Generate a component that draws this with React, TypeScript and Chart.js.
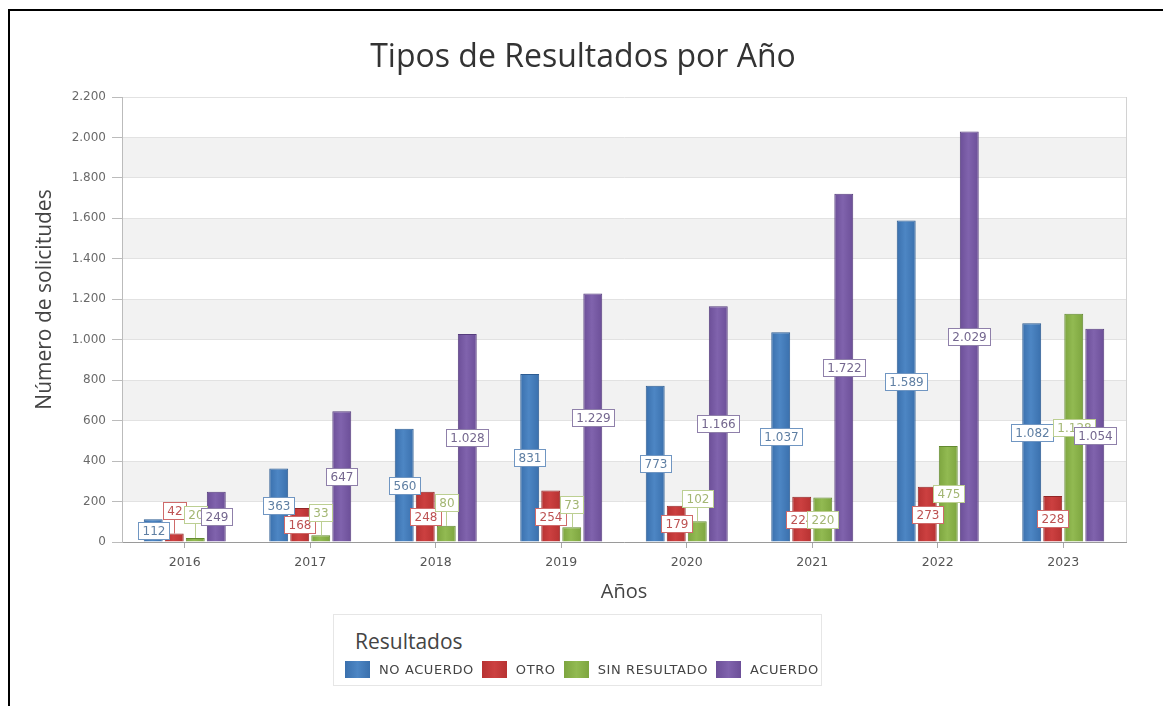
import React, { useEffect, useRef } from 'react';
import { Chart, registerables } from 'chart.js';
Chart.register(...registerables);

// ---------- data ----------
const categories = ['2016', '2017', '2018', '2019', '2020', '2021', '2022', '2023'];
const seriesNames = ['NO ACUERDO', 'OTRO', 'SIN RESULTADO', 'ACUERDO'];
const noAcuerdo = [112, 363, 560, 831, 773, 1037, 1589, 1082];
const otro = [42, 168, 248, 254, 179, 224, 273, 228];
const sinResultado = [20, 33, 80, 73, 102, 220, 475, 1128];
const acuerdo = [249, 647, 1028, 1229, 1166, 1722, 2029, 1054];
const seriesData = [noAcuerdo, otro, sinResultado, acuerdo];
const yMin = 0;
const yMax = 2200;
const yStep = 200;

const chartTitle = 'Tipos de Resultados por Año';
const yTitle = 'Número de solicitudes';
const xTitle = 'Años';
const legendTitle = 'Resultados';

// ---------- styles ----------
const barColors = ['#3a70ad', '#b73232', '#7da53f', '#6c4f98'];
const barLights = ['#4d86c4', '#cc4040', '#92ba52', '#8063ad'];
const barBorders = ['#2d5c92', '#922626', '#638a30', '#563d7d'];
const labelBorders = ['#7096c2', '#cf6a6a', '#bccf92', '#8f80aa'];
const labelTexts = ['#5f7fa3', '#bd5252', '#a3b673', '#74678f'];

const W = 1161;
const H = 696;

function fmt(v: number): string {
  return String(v).replace(/\B(?=(\d{3})+(?!\d))/g, '.');
}

export default function App() {
  const ref = useRef<HTMLCanvasElement>(null);

  useEffect(() => {
    const canvas = ref.current;
    if (!canvas) return;

    const decor = {
      id: 'decor',
      beforeDraw(chart: any) {
        const { ctx, chartArea: a, scales } = chart;
        const y = scales.y;
        ctx.save();
        ctx.fillStyle = '#ffffff';
        ctx.fillRect(0, 0, chart.width, chart.height);
        for (let v = yMin; v < yMax; v += yStep) {
          const idx = Math.round((v - yMin) / yStep);
          if (idx % 2 === 1) {
            const top = y.getPixelForValue(v + yStep);
            const bot = y.getPixelForValue(v);
            ctx.fillStyle = '#f2f2f2';
            ctx.fillRect(a.left, top, a.right - a.left, bot - top);
          }
        }
        ctx.restore();
      },
      beforeDatasetsDraw(chart: any) {
        const { ctx, chartArea: a } = chart;
        ctx.save();
        ctx.strokeStyle = '#d2d2d2';
        ctx.lineWidth = 1;
        ctx.beginPath();
        ctx.moveTo(Math.round(a.right) + 0.5, a.top);
        ctx.lineTo(Math.round(a.right) + 0.5, a.bottom);
        ctx.stroke();
        ctx.restore();
      },
      afterDraw(chart: any) {
        const { ctx, chartArea: a } = chart;
        ctx.save();
        ctx.fillStyle = '#333333';
        ctx.textAlign = 'center';
        ctx.textBaseline = 'alphabetic';
        ctx.font = '32px "Open Sans"';
        ctx.fillText(chartTitle, 573, 56);

        ctx.fillStyle = '#444444';
        ctx.textBaseline = 'middle';
        ctx.font = '20px "Open Sans"';
        ctx.fillText(xTitle, (a.left + a.right) / 2, a.bottom + 50);

        ctx.translate(35, (a.top + a.bottom) / 2 - 20);
        ctx.rotate(-Math.PI / 2);
        ctx.font = '21px "Open Sans"';
        ctx.fillText(yTitle, 0, 0);
        ctx.restore();
      },
    };

    const labelsPlugin = {
      id: 'barLabels',
      afterDatasetsDraw(chart: any) {
        const { ctx } = chart;
        ctx.save();
        ctx.font = '12px "DejaVu Sans"';
        ctx.textAlign = 'center';
        ctx.textBaseline = 'middle';
        chart.data.datasets.forEach((ds: any, i: number) => {
          const meta = chart.getDatasetMeta(i);
          meta.data.forEach((bar: any, j: number) => {
            const v = ds.data[j] as number;
            const { x, y, base } = bar.getProps(['x', 'y', 'base'], true);
            const text = fmt(v);
            const tw = ctx.measureText(text).width;
            const bw = Math.round(tw + 8);
            const bh = 17;
            let cy = (y + base) / 2;
            const moved = base - y < bh + 4;
            if (moved) cy = y - 23;
            const bx = Math.round(x - bw / 2) + 0.5;
            const by = Math.round(cy - bh / 2) + 0.5;
            ctx.lineWidth = 1;
            ctx.strokeStyle = labelBorders[i];
            if (moved) {
              ctx.beginPath();
              ctx.moveTo(Math.round(x) + 0.5, y);
              ctx.lineTo(Math.round(x) + 0.5, by + bh);
              ctx.stroke();
            }
            ctx.fillStyle = '#ffffff';
            ctx.fillRect(bx, by, bw, bh);
            ctx.strokeRect(bx, by, bw, bh);
            ctx.fillStyle = labelTexts[i];
            ctx.fillText(text, bx + bw / 2, by + bh / 2 + 0.5);
          });
        });
        ctx.restore();
      },
    };

    const makeFill = (i: number) => (c: any) => {
      const el = c.element;
      if (!el || el.x == null || el.width == null || !c.chart) return barColors[i];
      const g = c.chart.ctx.createLinearGradient(el.x - el.width / 2, 0, el.x + el.width / 2, 0);
      g.addColorStop(0, barColors[i]);
      g.addColorStop(0.45, barLights[i]);
      g.addColorStop(1, barColors[i]);
      return g;
    };

    const chart = new Chart(canvas, {
      type: 'bar',
      data: {
        labels: categories,
        datasets: seriesNames.map((name, i) => ({
          label: name,
          data: seriesData[i],
          backgroundColor: makeFill(i),
          borderColor: barBorders[i],
          borderWidth: 1,
          barPercentage: 0.9,
          categoryPercentage: 0.67,
        })),
      },
      options: {
        responsive: false,
        maintainAspectRatio: false,
        animation: false,
        devicePixelRatio: 1,
        layout: { padding: { left: 0, right: 45, top: 86, bottom: 105 } },
        plugins: {
          legend: { display: false },
          title: { display: false },
          tooltip: { enabled: false },
        },
        scales: {
          x: {
            afterFit(s: any) {
              s.height = 60;
            },
            grid: {
              display: true,
              drawOnChartArea: false,
              offset: false,
              tickLength: 6,
              color: '#aaaaaa',
            },
            border: { color: '#9a9a9a' },
            ticks: {
              font: { family: 'DejaVu Sans', size: 12.5 },
              color: '#555555',
              padding: 7,
            },
          },
          y: {
            min: yMin,
            max: yMax,
            afterFit(s: any) {
              s.width = 112;
            },
            ticks: {
              stepSize: yStep,
              callback: (v: any) => fmt(Number(v)),
              font: { family: 'DejaVu Sans', size: 12 },
              color: '#6a6a6a',
              padding: 6,
            },
            grid: { color: '#e2e2e2', tickLength: 10, tickColor: '#bbbbbb' },
            border: { color: '#bbbbbb' },
          },
        },
      } as any,
      plugins: [decor, labelsPlugin],
    });
    // second pass so the per-bar gradients know each bar's position
    chart.update('none');

    return () => chart.destroy();
  }, []);

  return (
    <div
      style={{
        position: 'relative',
        top: 1,
        width: 1163,
        height: 698,
        borderLeft: '2px solid #000',
        borderTop: '2px solid #000',
        boxSizing: 'border-box',
        background: '#fff',
        overflow: 'hidden',
      }}
    >
      <canvas ref={ref} width={W} height={H} style={{ position: 'absolute', left: 0, top: 0, width: W, height: H }} />
      <div
        style={{
          position: 'absolute',
          left: 323,
          top: 603,
          width: 489,
          height: 72,
          border: '1px solid #e6e6e6',
          boxSizing: 'border-box',
          background: '#fff',
        }}
      >
        <div
          style={{
            position: 'absolute',
            left: 21,
            top: 13,
            font: '21px "Open Sans"',
            lineHeight: '26px',
            color: '#444',
          }}
        >
          {legendTitle}
        </div>
        <div
          style={{
            position: 'absolute',
            left: 11,
            top: 46,
            display: 'flex',
            alignItems: 'center',
            height: 17,
            whiteSpace: 'nowrap',
          }}
        >
          {seriesNames.map((n, i) => (
            <div key={n} style={{ display: 'flex', alignItems: 'center', marginRight: 8 }}>
              <span
                style={{
                  display: 'inline-block',
                  width: 25,
                  height: 17,
                  background: `linear-gradient(90deg, ${barColors[i]}, ${barLights[i]}, ${barColors[i]})`,
                  marginRight: 9,
                }}
              />
              <span
                style={{
                  font: '13px "DejaVu Sans"',
                  letterSpacing: '0.6px',
                  color: '#444',
                }}
              >
                {n}
              </span>
            </div>
          ))}
        </div>
      </div>
    </div>
  );
}
